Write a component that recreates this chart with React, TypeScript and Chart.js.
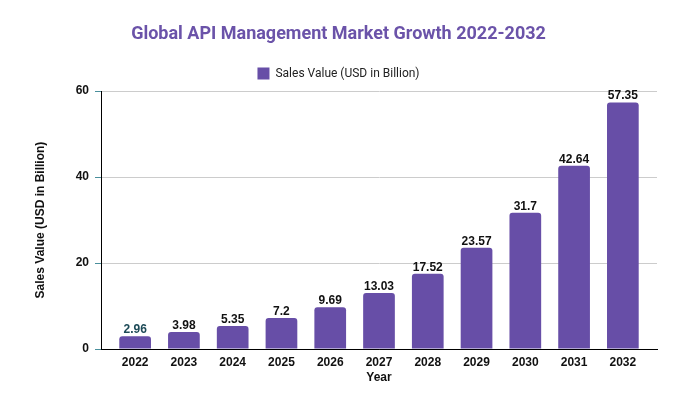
import { useEffect, useRef } from "react"
import { Chart, registerables } from "chart.js"

Chart.register(...registerables)

// chart data
const YEARS = ["2022", "2023", "2024", "2025", "2026", "2027", "2028", "2029", "2030", "2031", "2032"]
const SALES_VALUES = [2.96, 3.98, 5.35, 7.2, 9.69, 13.03, 17.52, 23.57, 31.7, 42.64, 57.35]
const Y_TICKS = [0, 20, 40, 60]

const SERIES_LABEL = "Sales Value (USD in Billion)"
const TITLE = "Global API Management Market Growth 2022-2032"

const BAR_COLOR = "#674ea7"
const TICK_COLOR = "#4a8f9c"
const AXIS_FONT = "'Liberation Sans', Arial, sans-serif"

// value labels above each bar
const barLabels = {
  id: "barLabels",
  afterDatasetsDraw(chart: any) {
    const { ctx } = chart
    const meta = chart.getDatasetMeta(0)
    ctx.save()
    ctx.font = `bold 12px ${AXIS_FONT}`
    ctx.textAlign = "center"
    ctx.textBaseline = "alphabetic"
    meta.data.forEach((bar: any, i: number) => {
      ctx.fillStyle = i === 0 ? "#1d4a57" : "#111111"
      ctx.fillText(String(SALES_VALUES[i]), bar.x, bar.y - 3)
    })
    ctx.restore()
  },
}

export default function App() {
  const canvasRef = useRef<HTMLCanvasElement>(null)
  const chartRef = useRef<Chart | null>(null)

  useEffect(() => {
    if (!canvasRef.current) return
    const ctx = canvasRef.current.getContext("2d")
    if (!ctx) return

    chartRef.current = new Chart(ctx, {
      type: "bar",
      data: {
        datasets: [
          {
            label: SERIES_LABEL,
            data: YEARS.map((_, i) => ({ x: i, y: SALES_VALUES[i] })),
            backgroundColor: BAR_COLOR,
            borderRadius: { topLeft: 3, topRight: 3, bottomLeft: 0, bottomRight: 0 },
            borderSkipped: "start",
            categoryPercentage: 1,
            barPercentage: 0.65,
          },
        ],
      },
      options: {
        responsive: false,
        animation: false,
        events: [],
        layout: { padding: 0 },
        plugins: {
          title: {
            display: true,
            text: TITLE,
            color: "#6b53a9",
            font: { family: "Roboto", size: 18, weight: "bold", lineHeight: 1.2 },
            padding: { top: 24, bottom: 12 },
          },
          legend: {
            display: true,
            position: "top",
            labels: {
              boxWidth: 12,
              boxHeight: 12,
              padding: 10,
              color: "#222222",
              font: { family: "Roboto", size: 12 },
            },
          },
          // thin spacer between legend and plot
          subtitle: {
            display: true,
            text: "",
            weight: 500,
            padding: 0,
            font: { size: 1, lineHeight: 1.5 },
          } as any,
          tooltip: { enabled: false },
        },
        scales: {
          x: {
            type: "linear",
            offset: false,
            min: -0.7,
            max: 10.7,
            grid: { display: false, drawTicks: false },
            border: { display: true, color: "#000000", width: 1 },
            ticks: {
              stepSize: 1,
              includeBounds: false,
              autoSkip: false,
              maxRotation: 0,
              padding: 6,
              color: "#111111",
              font: { family: AXIS_FONT, size: 12, weight: "bold" },
              callback: (v: any) => (Number.isInteger(v) ? YEARS[v] : ""),
            },
            title: {
              display: true,
              text: "Year",
              color: "#111111",
              font: { family: AXIS_FONT, size: 12, weight: "bold" },
              padding: { top: 0, bottom: 31 },
            },
            afterFit: (scale: any) => {
              scale.height = 67
            },
          },
          y: {
            min: 0,
            max: 60,
            afterBuildTicks: (scale: any) => {
              scale.ticks = Y_TICKS.map((value) => ({ value }))
            },
            grid: {
              color: (c: any) => (c.tick && c.tick.value === 0 ? "#000000" : "#cccccc"),
              tickColor: TICK_COLOR,
              tickLength: 6,
            },
            border: { display: true, color: "#000000", width: 1 },
            ticks: {
              padding: 6,
              color: "#111111",
              font: { family: AXIS_FONT, size: 12, weight: "bold" },
            },
            title: {
              display: true,
              text: SERIES_LABEL,
              color: "#111111",
              font: { family: AXIS_FONT, size: 12, weight: "bold" },
              padding: { top: 33, bottom: 0 },
            },
            afterFit: (scale: any) => {
              scale.width = 101
            },
          },
          // empty right-hand margin so the title stays centred on the page
          yRight: {
            position: "right",
            min: 0,
            max: 60,
            grid: { drawOnChartArea: false, drawTicks: false },
            border: { display: false },
            ticks: { display: false },
            afterFit: (scale: any) => {
              scale.width = 20
            },
          },
        },
      },
      plugins: [barLabels],
    })

    return () => {
      if (chartRef.current) {
        chartRef.current.destroy()
        chartRef.current = null
      }
    }
  }, [])

  return (
    <div style={{ position: "absolute", left: 0, top: 0, width: 677, height: 416, background: "#ffffff" }}>
      <canvas ref={canvasRef} width={677} height={416} style={{ display: "block" }} />
    </div>
  )
}
